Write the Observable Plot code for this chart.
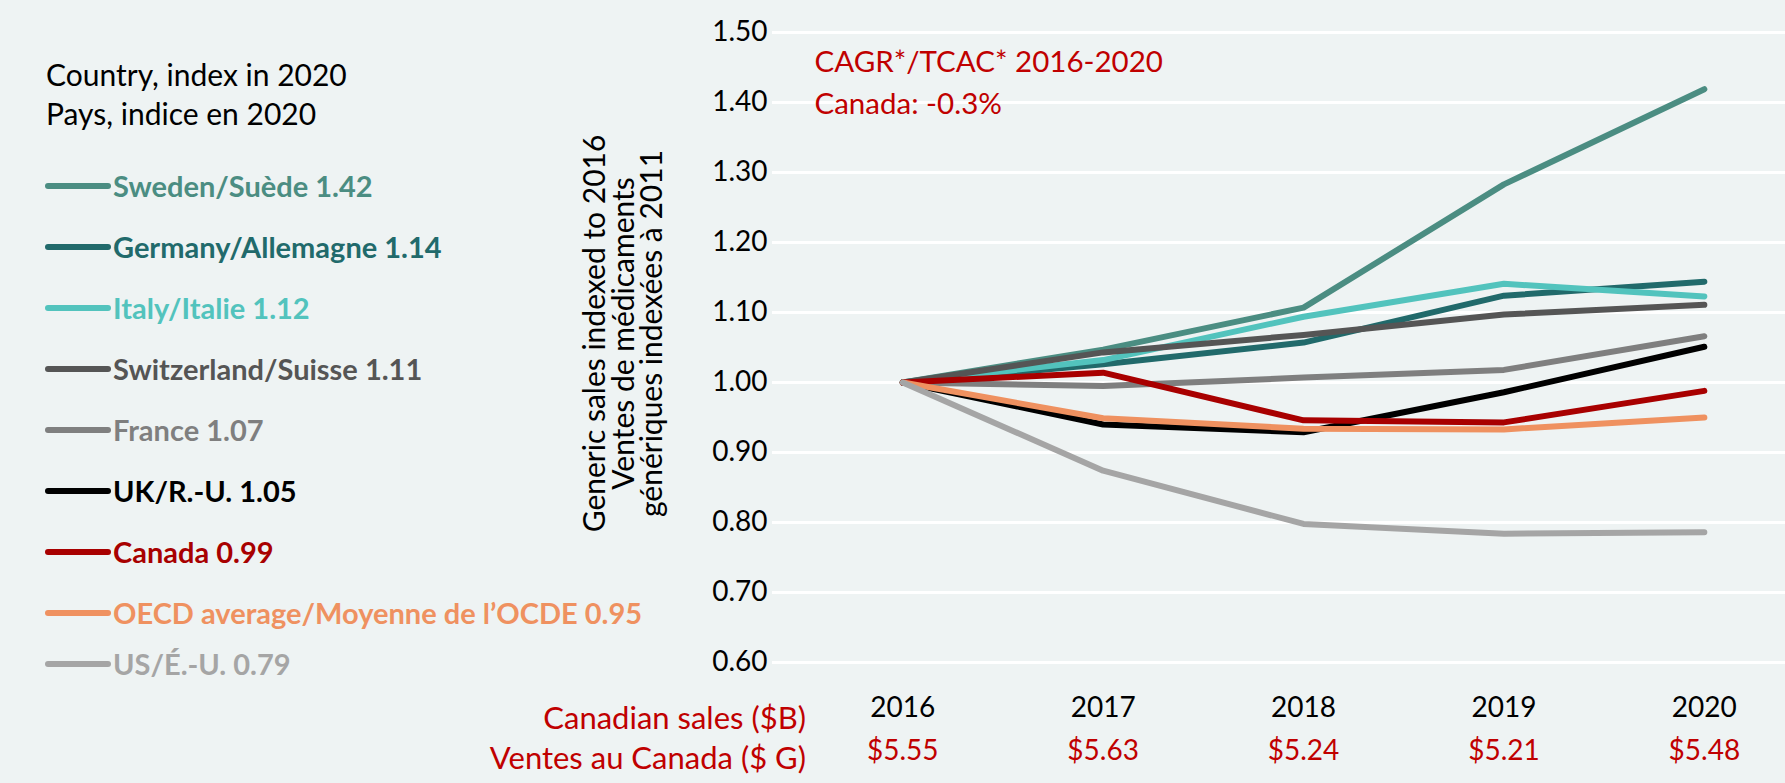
<!DOCTYPE html>
<html>
<head>
<meta charset="utf-8">
<script src="https://cdn.jsdelivr.net/npm/d3@7"></script>
<script src="https://cdn.jsdelivr.net/npm/@observablehq/plot@0.6"></script>
<style>
  html, body { margin: 0; padding: 0; background: #eef3f3; }
  #wrap { position: relative; width: 1785px; height: 783px; background: #eef3f3; overflow: hidden; font-family: Lato, "Open Sans", sans-serif; }
  #chart { position: absolute; left: 0; top: 0; }
  #title { position: absolute; left: 46px; top: 55px; font-size: 30px; line-height: 39px; color: #000; white-space: nowrap; }
  #legend { position: absolute; left: 45px; top: 155px; }
  .item { display: flex; align-items: center; height: 61px; font-size: 29px; font-weight: bold; white-space: nowrap; }
  .item:last-child { margin-top: -10px; }
  .sw { width: 66px; height: 6px; border-radius: 3px; margin-right: 2px; }
  #sales { position: absolute; right: 979px; top: 697px; text-align: right; font-size: 31px; line-height: 40px; color: #c00000; white-space: nowrap; }
</style>
</head>
<body>
<div id="wrap">
  <div id="chart"></div>
  <div id="title">Country, index in 2020<br>Pays, indice en 2020</div>
  <div id="legend"></div>
  <div id="sales">Canadian sales ($B)<br>Ventes au Canada ($ G)</div>
</div>
<script>
const years = [2016, 2017, 2018, 2019, 2020];
const salesLabels = ["$5.55", "$5.63", "$5.24", "$5.21", "$5.48"];
const yTicks = [0.6, 0.7, 0.8, 0.9, 1.0, 1.1, 1.2, 1.3, 1.4, 1.5];

const countries = ["Sweden", "Germany", "Italy", "Switzerland", "France", "UK", "Canada", "OECD", "US"];
const legendLabels = [
  "Sweden/Suède 1.42",
  "Germany/Allemagne 1.14",
  "Italy/Italie 1.12",
  "Switzerland/Suisse 1.11",
  "France 1.07",
  "UK/R.-U. 1.05",
  "Canada 0.99",
  "OECD average/Moyenne de l’OCDE 0.95",
  "US/É.-U. 0.79"
];
const colors = ["#4b8d82", "#216a6b", "#52c3bd", "#555555", "#7f7f7f", "#000000", "#a80000", "#ef9160", "#a5a5a5"];

const sweden      = [1.00, 1.047, 1.107, 1.283, 1.419];
const germany     = [1.00, 1.026, 1.057, 1.124, 1.144];
const italy       = [1.00, 1.032, 1.094, 1.141, 1.123];
const switzerland = [1.00, 1.043, 1.068, 1.097, 1.111];
const france      = [1.00, 0.995, 1.007, 1.018, 1.066];
const uk          = [1.00, 0.940, 0.929, 0.986, 1.051];
const canada      = [1.00, 1.014, 0.946, 0.943, 0.988];
const oecd        = [1.00, 0.949, 0.934, 0.933, 0.950];
const us          = [1.00, 0.874, 0.798, 0.784, 0.786];

const series = [sweden, germany, italy, switzerland, france, uk, canada, oecd, us];
const rows = [];
series.forEach((vals, k) => vals.forEach((v, i) => rows.push({country: countries[k], year: years[i], value: v})));

const yLabel = "Generic sales indexed to 2016\nVentes de médicaments\ngénériques indexées à 2011";
const cagr = "CAGR*/TCAC* 2016-2020\nCanada: -0.3%";

const chart = Plot.plot({
  width: 1785,
  height: 783,
  marginLeft: 772,
  marginRight: 0,
  marginTop: 32,
  marginBottom: 121,
  style: {background: "transparent", fontFamily: "Lato, 'Open Sans', sans-serif", color: "#000", overflow: "visible"},
  x: {domain: [2015.35, 2020.405], label: null},
  y: {domain: [0.6, 1.5], label: null},
  color: {domain: countries, range: colors},
  marks: [
    Plot.ruleY(yTicks, {stroke: "#ffffff", strokeWidth: 3}),
    Plot.axisY({ticks: yTicks, tickFormat: d3.format(".2f"), tickSize: 0, tickPadding: 5, fontSize: 28, label: null, fill: "#000"}),
    Plot.axisX({ticks: years, tickFormat: d => String(d), tickSize: 0, tickPadding: 35, fontSize: 28, label: null, fill: "#000"}),
    Plot.axisX({ticks: years, tickFormat: d => salesLabels[years.indexOf(d)], tickSize: 0, tickPadding: 78, fontSize: 28, label: null, fill: "#c00000"}),
    Plot.line(rows, {x: "year", y: "value", z: "country", stroke: "country", strokeWidth: 6, strokeLinejoin: "round", strokeLinecap: "round"}),
    Plot.text([yLabel], {frameAnchor: "left", textAnchor: "middle", lineAnchor: "middle", rotate: -90, dx: -148, dy: -14, fontSize: 30, lineHeight: 0.95, fill: "#000"}),
    Plot.text([cagr], {frameAnchor: "top-left", textAnchor: "start", lineAnchor: "top", dx: 42, dy: 10, fontSize: 29.5, lineHeight: 1.42, fill: "#c00000"})
  ]
});
document.getElementById("chart").appendChild(chart);

const legend = document.getElementById("legend");
legendLabels.forEach((lab, k) => {
  const item = document.createElement("div");
  item.className = "item";
  item.style.color = colors[k];
  const sw = document.createElement("span");
  sw.className = "sw";
  sw.style.background = colors[k];
  const t = document.createElement("span");
  t.textContent = lab;
  item.appendChild(sw);
  item.appendChild(t);
  legend.appendChild(item);
});
</script>
</body>
</html>
